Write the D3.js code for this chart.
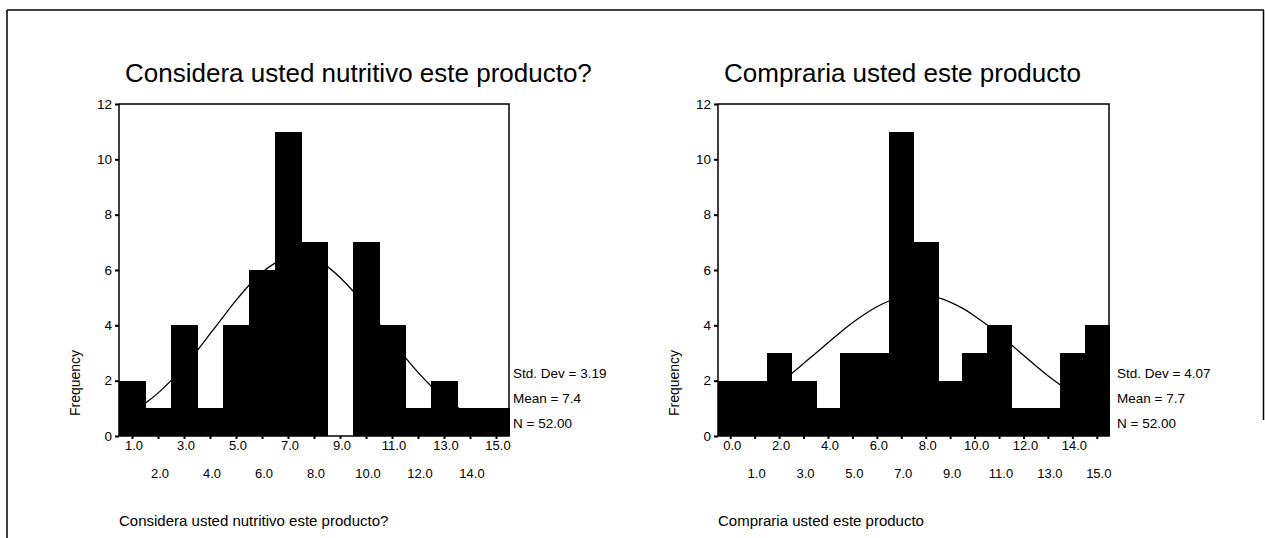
<!DOCTYPE html>
<html>
<head>
<meta charset="utf-8">
<script src="https://cdn.jsdelivr.net/npm/d3@7"></script>
<style>
  body { margin: 0; background: #fff; }
  svg { display: block; font-family: "Liberation Sans", Arial, sans-serif; }
</style>
</head>
<body>
<svg id="drawing_region"></svg>
<script>
// ---- data ----
const nutri_bins   = [1, 2, 3, 4, 5, 6, 7, 8, 9, 10, 11, 12, 13, 14, 15];
const nutri_counts = [2, 1, 4, 1, 4, 6, 11, 7, 0, 7, 4, 1, 2, 1, 1];
const nutri_curve_x = [0.5, 1, 1.5, 2, 2.5, 3, 3.5, 4, 4.5, 5, 5.5, 6, 6.5, 7, 7.5, 8,
                       8.5, 9, 9.5, 10, 10.5, 11, 11.5, 12, 12.5, 13, 13.5, 14, 14.5, 15, 15.5];
const nutri_curve_y = [0.63, 0.87, 1.18, 1.55, 2.00, 2.51, 3.08, 3.69, 4.30, 4.90, 5.45, 5.91, 6.25, 6.45, 6.50, 6.39,
                       6.13, 5.73, 5.24, 4.67, 4.06, 3.44, 2.85, 2.30, 1.81, 1.39, 1.05, 0.76, 0.55, 0.38, 0.26];
const nutri_stats = ['Std. Dev = 3.19', 'Mean = 7.4', 'N = 52.00'];

const compra_bins   = [0, 1, 2, 3, 4, 5, 6, 7, 8, 9, 10, 11, 12, 13, 14, 15];
const compra_counts = [2, 2, 3, 2, 1, 3, 3, 11, 7, 2, 3, 4, 1, 1, 3, 4];
const compra_curve_x = [-0.5, 0, 0.5, 1, 1.5, 2, 2.5, 3, 3.5, 4, 4.5, 5, 5.5, 6, 6.5, 7, 7.5, 8,
                        8.5, 9, 9.5, 10, 10.5, 11, 11.5, 12, 12.5, 13, 13.5, 14, 14.5, 15, 15.5];
const compra_curve_y = [0.67, 0.85, 1.07, 1.32, 1.60, 1.91, 2.25, 2.62, 2.99, 3.37, 3.74, 4.09, 4.40, 4.67, 4.88, 5.02, 5.09, 5.08,
                        5.00, 4.84, 4.62, 4.34, 4.02, 3.67, 3.30, 2.92, 2.54, 2.18, 1.85, 1.54, 1.26, 1.02, 0.81];
const compra_stats = ['Std. Dev = 4.07', 'Mean = 7.7', 'N = 52.00'];

const y_ticks = [0, 2, 4, 6, 8, 10, 12];

const svg = d3.select('#drawing_region')
    .attr('width', 1265)
    .attr('height', 538);

// outer frame of the page
const frame = svg.append('g').attr('fill', 'none').attr('stroke', 'black').attr('stroke-width', 1.5);
frame.append('line').attr('x1', 7).attr('x2', 1264).attr('y1', 10).attr('y2', 10);
frame.append('line').attr('x1', 7).attr('x2', 7).attr('y1', 10).attr('y2', 538);
frame.append('line').attr('x1', 1263.5).attr('x2', 1263.5).attr('y1', 10).attr('y2', 420);

class Histogram {

    constructor( config, data ) {
        this.config = config;
        this.data = data;
        this.init();
    }

    init() {
        let self = this;
        const c = self.config;

        self.chart = svg.append('g')
            .attr('transform', `translate(${c.left}, ${c.top})`);

        self.xscale = d3.scaleLinear()
            .domain([d3.min(self.data.bins) - 0.5, d3.max(self.data.bins) + 0.5])
            .range([0, c.width]);

        self.yscale = d3.scaleLinear()
            .domain([0, 12])
            .range([c.height, 0]);

        self.line = d3.line()
            .x( d => self.xscale(d[0]) )
            .y( d => self.yscale(d[1]) )
            .curve(d3.curveCardinal);
    }

    render() {
        let self = this;
        const c = self.config;
        const d = self.data;
        const bw = self.xscale(1) - self.xscale(0);

        self.chart.selectAll('rect.bar')
            .data(d.bins.map((b, i) => ({ b: b, n: d.counts[i] })))
            .enter()
            .append('rect')
            .attr('class', 'bar')
            .attr('x', e => self.xscale(e.b - 0.5))
            .attr('width', bw + 0.8)
            .attr('y', e => self.yscale(e.n))
            .attr('height', e => c.height - self.yscale(e.n))
            .attr('shape-rendering', 'crispEdges')
            .attr('fill', 'black');

        self.chart.append('path')
            .attr('d', self.line(d.curve_x.map((x, i) => [x, d.curve_y[i]])))
            .attr('fill', 'none')
            .attr('stroke', 'black')
            .attr('stroke-width', 1.3);

        self.chart.append('rect')
            .attr('width', c.width)
            .attr('height', c.height)
            .attr('fill', 'none')
            .attr('stroke', 'black')
            .attr('stroke-width', 1.5);

        // y axis
        const yaxis = d3.axisLeft(self.yscale)
            .tickValues(y_ticks)
            .tickSize(4)
            .tickPadding(3)
            .tickFormat(d3.format('d'));
        const yg = self.chart.append('g').call(yaxis);
        yg.select('.domain').remove();
        yg.selectAll('line').attr('stroke-width', 2);
        yg.selectAll('text')
            .attr('font-size', 13.5)
            .attr('font-family', '"Liberation Sans", Arial, sans-serif')
            .attr('fill', 'black');

        // x axis ticks, labels on two alternating rows
        const xaxis = d3.axisBottom(self.xscale)
            .tickValues(d.bins)
            .tickSize(3)
            .tickFormat('');
        const xg = self.chart.append('g')
            .attr('transform', `translate(0, ${c.height})`)
            .call(xaxis);
        xg.select('.domain').remove();
        xg.selectAll('line').attr('stroke-width', 2);

        self.chart.selectAll('text.xlab')
            .data(d.bins)
            .enter()
            .append('text')
            .attr('class', 'xlab')
            .attr('x', b => self.xscale(b) + 2)
            .attr('y', (b, i) => c.height + (i % 2 === 0 ? 14 : 42))
            .attr('text-anchor', 'middle')
            .attr('font-size', 13)
            .text(b => b.toFixed(1));

        // titles
        self.chart.append('text')
            .attr('x', 6)
            .attr('y', -22)
            .attr('font-size', 26)
            .text(c.title);

        self.chart.append('text')
            .attr('x', 0)
            .attr('y', c.height + 90)
            .attr('font-size', 15)
            .text(c.title);

        self.chart.append('text')
            .attr('transform', `translate(${-39}, ${c.height - 53}) rotate(-90)`)
            .attr('text-anchor', 'middle')
            .attr('font-size', 14)
            .text('Frequency');

        self.chart.selectAll('text.stat')
            .data(d.stats)
            .enter()
            .append('text')
            .attr('class', 'stat')
            .attr('x', c.width + c.statGap)
            .attr('y', (s, i) => c.height - 58 + i * 25)
            .attr('font-size', 13.5)
            .text(s => s);
    }
}

const left_chart = new Histogram(
    { left: 119, top: 104, width: 390, height: 332, statGap: 4,
      title: 'Considera usted nutritivo este producto?' },
    { bins: nutri_bins, counts: nutri_counts, curve_x: nutri_curve_x, curve_y: nutri_curve_y, stats: nutri_stats });
left_chart.render();

const right_chart = new Histogram(
    { left: 718, top: 104, width: 391, height: 332, statGap: 8,
      title: 'Compraria usted este producto' },
    { bins: compra_bins, counts: compra_counts, curve_x: compra_curve_x, curve_y: compra_curve_y, stats: compra_stats });
right_chart.render();
</script>
</body>
</html>
